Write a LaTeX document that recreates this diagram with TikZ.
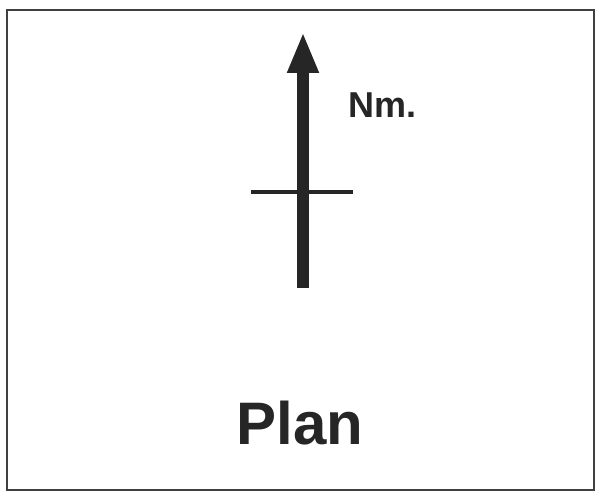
\documentclass[tikz,border=0pt]{standalone}
\usepackage{fontspec}
\setmainfont{Liberation Sans}
\usetikzlibrary{arrows.meta}

\begin{document}
\begin{tikzpicture}[x=1pt,y=-1pt,>={Triangle[length=41pt,width=29pt]},
  lbl/.style={inner sep=0pt,font=\bfseries,text=black!85}]
  \useasboundingbox (0,0) rectangle (595,494);
  \draw[line width=1.6pt,black!75] (7,10) rectangle (594,490);
  \coordinate (S) at (303,288);
  \coordinate (T) at (303,32);
  \coordinate (CL) at (251,192);
  \coordinate (CR) at (353,192);
  \draw[->,line width=12pt,black!85] (S) -- (T);
  \draw[line width=4.5pt,black!85] (CL) -- (CR);
  \node[lbl,anchor=base west,font=\fontsize{36}{40}\selectfont\bfseries] (N) at (348,118) {Nm.};
  \node[lbl,anchor=base,font=\fontsize{60}{66}\selectfont\bfseries] (P) at (300,445) {Plan};
\end{tikzpicture}
\end{document}
